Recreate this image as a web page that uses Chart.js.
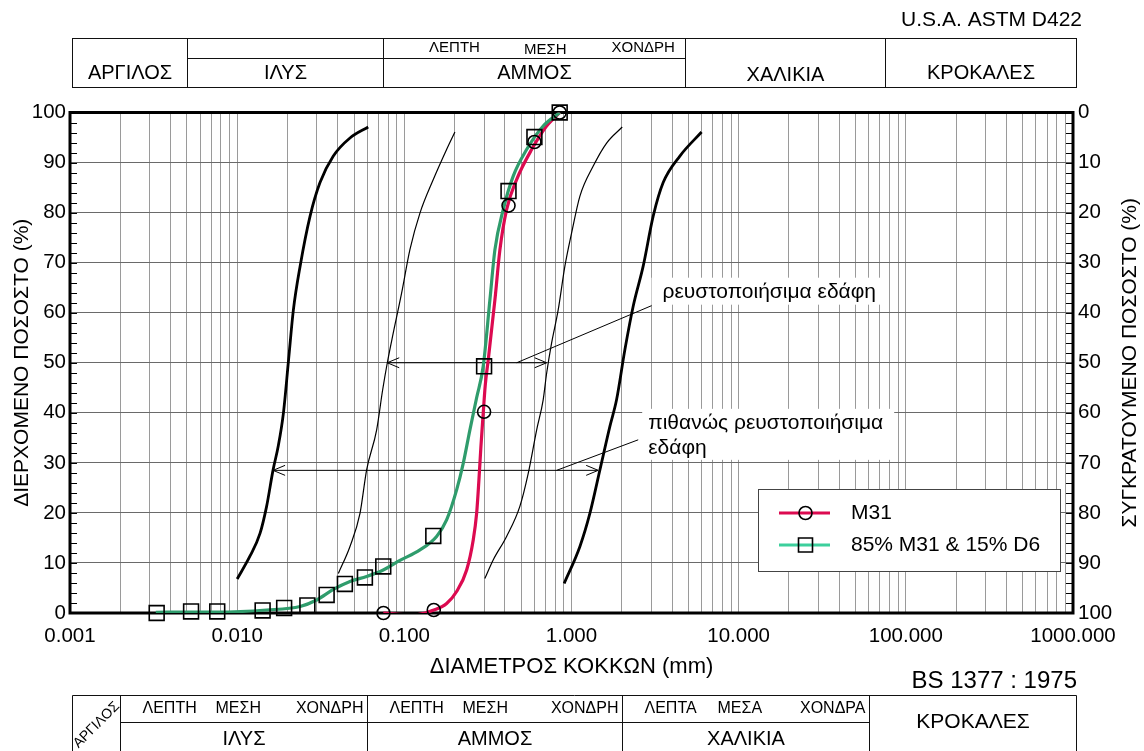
<!DOCTYPE html>
<html lang="el">
<head>
<meta charset="utf-8">
<title>Κοκκομετρική διαβάθμιση</title>
<script src="https://cdn.jsdelivr.net/npm/chart.js@4.4.1/dist/chart.umd.min.js"></script>
<style>
  html, body { margin: 0; padding: 0; background: #fff; }
  canvas { display: block; }
</style>
</head>
<body>
<canvas id="grading" width="1144" height="751"></canvas>
<script>
// ---- sieve results: grain diameter (mm) and percent passing ----
const m31Diam = [0.075, 0.15, 0.30, 0.42, 0.60, 0.85];
const m31Pass = [0, 0.6, 40.2, 81.4, 94.1, 100];
const mixDiam = [0.0033, 0.0053, 0.0076, 0.0142, 0.0191, 0.0263, 0.0343, 0.0441, 0.0581, 0.0748, 0.149, 0.30, 0.42, 0.60, 0.85];
const mixPass = [0, 0.3, 0.3, 0.5, 1.0, 1.5, 3.6, 5.8, 7.1, 9.3, 15.4, 49.3, 84.3, 95.1, 100];

// ---- smoothed grading curves ----
const m31CurveDiam = [0.0748, 0.113, 0.1503, 0.1791, 0.2055, 0.2359, 0.2583, 0.2707, 0.2794, 0.2872, 0.2964, 0.3048, 0.3175, 0.3483, 0.3731, 0.409, 0.4696, 0.5774, 0.7097, 0.8523];
const m31CurvePass = [0, -0.4, 0.6, 1.9, 4.3, 8.6, 14.6, 19.9, 26.6, 33.3, 39.9, 45.5, 50.5, 62.6, 72.6, 80.6, 86.6, 92.6, 97.3, 100];
const mixCurveDiam = [0.00326, 0.0053, 0.0076, 0.0150, 0.0238, 0.0299, 0.0376, 0.0473, 0.0595, 0.0748, 0.0941, 0.124, 0.156, 0.179, 0.2055, 0.2251, 0.2468, 0.2707, 0.2964, 0.3251, 0.3483, 0.3904, 0.4481, 0.5391, 0.6772, 0.8523];
const mixCurvePass = [0.15, 0.2, 0.2, 0.6, 1.3, 2.6, 4.7, 6.3, 7.3, 8.6, 10.5, 12.6, 15.3, 18.6, 24.6, 29.9, 36.6, 43.0, 49.3, 62.6, 72.6, 80.6, 87.3, 92.6, 97.3, 100];

// ---- liquefaction susceptibility envelopes ----
const possLowDiam = [0.0100, 0.0119, 0.0137, 0.0150, 0.0164, 0.0176, 0.0189, 0.0203, 0.0217, 0.0238, 0.0273, 0.0313, 0.0376, 0.0473, 0.0608];
const possLowPass = [6.8, 11.3, 15.9, 21.3, 28.6, 33.3, 39.9, 50.6, 60.6, 69.3, 79.3, 86.0, 91.3, 94.9, 97.1];
const possHighDiam = [0.904, 1.123, 1.288, 1.479, 1.697, 1.86, 2.086, 2.339, 2.684, 3.081, 3.535, 4.449, 6.0];
const possHighPass = [5.9, 13.3, 19.9, 28.6, 37.3, 42.6, 52.6, 61.3, 69.3, 79.3, 86.0, 91.3, 96.1];
const liqLowDiam = [0.0403, 0.0473, 0.0543, 0.0595, 0.0683, 0.0742, 0.0790, 0.0858, 0.0963, 0.108, 0.124, 0.149, 0.179, 0.2007];
const liqLowPass = [7.9, 13.3, 19.9, 28.6, 36.6, 44.6, 49.9, 55.9, 63.9, 72.6, 79.9, 86.6, 92.6, 96.1];
const liqHighDiam = [0.303, 0.340, 0.409, 0.491, 0.551, 0.619, 0.677, 0.710, 0.760, 0.833, 0.913, 1.001, 1.123, 1.349, 1.622, 2.011];
const liqHighPass = [6.9, 10.6, 15.3, 21.3, 27.9, 36.6, 42.6, 47.9, 53.9, 60.6, 69.3, 75.9, 83.3, 89.3, 93.9, 97.1];

// ---- dimension arrows and leaders for the envelope labels ----
const liqArrowDiam = [0.079, 0.71];
const liqArrowPass = [50, 50];
const liqLeaderDiam = [0.47, 3.01];
const liqLeaderPass = [50, 61.4];
const possArrowDiam = [0.0164, 1.444];
const possArrowPass = [28.5, 28.5];
const possLeaderDiam = [0.8145, 2.506];
const possLeaderPass = [28.5, 34.6];

// ---- axes ----
const xDecades = [0.001, 0.01, 0.1, 1, 10, 100, 1000];
const passTicks = [0, 10, 20, 30, 40, 50, 60, 70, 80, 90, 100];

// ---- soil classification bands ----
const astmBounds = [0.005, 0.075, 4.75, 75];
const astmGroups = ['ΑΡΓΙΛΟΣ', 'ΙΛΥΣ', 'ΑΜΜΟΣ', 'ΧΑΛΙΚΙΑ', 'ΚΡΟΚΑΛΕΣ'];
const astmSandParts = ['ΛΕΠΤΗ', 'ΜΕΣΗ', 'ΧΟΝΔΡΗ'];
const bsBounds = [0.002, 0.06, 2, 60];
const bsGroups = ['ΑΡΓΙΛΟΣ', 'ΙΛΥΣ', 'ΑΜΜΟΣ', 'ΧΑΛΙΚΙΑ', 'ΚΡΟΚΑΛΕΣ'];
const bsParts = [['ΛΕΠΤΗ', 'ΜΕΣΗ', 'ΧΟΝΔΡΗ'], ['ΛΕΠΤΗ', 'ΜΕΣΗ', 'ΧΟΝΔΡΗ'], ['ΛΕΠΤΑ', 'ΜΕΣΑ', 'ΧΟΝΔΡΑ']];

const FACE = '"Liberation Sans", Arial, Helvetica, sans-serif';
const RED = '#dc0a50';
const GREEN = '#2f9c6c';
const GREEN_KEY = '#3ccf9c';

const pts = (d, p) => d.map((v, i) => ({ x: v, y: p[i] }));
const curve = (label, d, p, color, width, order, smooth = true) => ({
  label, data: pts(d, p), showLine: true, borderColor: color, borderWidth: width,
  pointRadius: 0, pointHoverRadius: 0, fill: false, order,
  cubicInterpolationMode: smooth ? 'monotone' : 'default', tension: 0
});

const font = (size) => `${size}px ${FACE}`;

function text(ctx, s, x, y, size, align = 'center', base = 'middle') {
  ctx.font = font(size);
  ctx.textAlign = align;
  ctx.textBaseline = base;
  ctx.fillStyle = '#000';
  ctx.fillText(s, x, y);
}

function hline(ctx, x1, x2, y) {
  ctx.beginPath(); ctx.moveTo(x1, y); ctx.lineTo(x2, y); ctx.stroke();
}
function vline(ctx, x, y1, y2) {
  ctx.beginPath(); ctx.moveTo(x, y1); ctx.lineTo(x, y2); ctx.stroke();
}

const decor = {
  id: 'decor',
  beforeDatasetsDraw(chart) {
    const { ctx, chartArea: a, scales: { x, y } } = chart;
    ctx.save();
    // white boxes behind the envelope labels
    const liqEnd = { x: x.getPixelForValue(liqLeaderDiam[1]), y: y.getPixelForValue(liqLeaderPass[1]) };
    const possEnd = { x: x.getPixelForValue(possLeaderDiam[1]), y: y.getPixelForValue(possLeaderPass[1]) };
    ctx.fillStyle = '#fff';
    ctx.fillRect(liqEnd.x, liqEnd.y - 28, 232, 27);
    ctx.fillRect(possEnd.x + 4, possEnd.y - 31, 252, 51);
    text(ctx, 'ρευστοποιήσιμα εδάφη', liqEnd.x + 11, liqEnd.y - 13, 21, 'left');
    text(ctx, 'πιθανώς ρευστοποιήσιμα', possEnd.x + 10, possEnd.y - 17, 21, 'left');
    text(ctx, 'εδάφη', possEnd.x + 10, possEnd.y + 8, 21, 'left');

    // inward minor ticks on both percentage axes
    ctx.strokeStyle = '#000';
    ctx.lineWidth = 1;
    for (let v = 2; v < 100; v += 2) {
      const py = Math.round(y.getPixelForValue(v)) + 0.5;
      hline(ctx, a.left, a.left + 7, py);
      hline(ctx, a.right - 7, a.right, py);
    }
    // plot frame
    ctx.lineWidth = 3;
    ctx.strokeRect(a.left, a.top, a.right - a.left, a.bottom - a.top);
    ctx.restore();
  },
  afterDatasetsDraw(chart) {
    const { ctx, scales: { x, y } } = chart;
    ctx.save();
    // open arrowheads at both ends of the dimension lines
    ctx.strokeStyle = '#000';
    ctx.lineWidth = 1;
    [[liqArrowDiam, liqArrowPass], [possArrowDiam, possArrowPass]].forEach(([d, p]) => {
      const x1 = x.getPixelForValue(d[0]), x2 = x.getPixelForValue(d[1]);
      const py = y.getPixelForValue(p[0]);
      ctx.beginPath();
      ctx.moveTo(x1 + 12, py - 5); ctx.lineTo(x1, py); ctx.lineTo(x1 + 12, py + 5);
      ctx.moveTo(x2 - 12, py - 5); ctx.lineTo(x2, py); ctx.lineTo(x2 - 12, py + 5);
      ctx.stroke();
    });

    // legend
    const lx = 758.5, ly = 489.5, lw = 302, lh = 82;
    ctx.fillStyle = '#fff';
    ctx.fillRect(lx, ly, lw, lh);
    ctx.strokeStyle = '#444';
    ctx.strokeRect(lx, ly, lw, lh);
    const rows = [
      { name: 'M31', color: RED, mark: 'circle', yy: 513 },
      { name: '85% M31 & 15% D6', color: GREEN_KEY, mark: 'square', yy: 545 }
    ];
    rows.forEach(r => {
      ctx.strokeStyle = r.color;
      ctx.lineWidth = 3.2;
      hline(ctx, 779, 830, r.yy);
      ctx.strokeStyle = '#000';
      ctx.lineWidth = 1.6;
      ctx.beginPath();
      if (r.mark === 'circle') ctx.arc(805.5, r.yy, 6.5, 0, Math.PI * 2);
      else ctx.rect(798.5, r.yy - 7, 14, 14);
      ctx.stroke();
      text(ctx, r.name, 851, r.yy, 21, 'left');
    });
    ctx.restore();
  },
  afterDraw(chart) {
    const { ctx, chartArea: a, scales: { x } } = chart;
    ctx.save();
    ctx.strokeStyle = '#111';
    ctx.lineWidth = 1;
    const L = 72.5, R = 1076.5;

    // ASTM D422 band above the plot
    text(ctx, 'U.S.A. ASTM D422', 1082, 20, 21, 'right');
    const tT = 38.5, tM = 58.5, tB = 87.5;
    const ab = astmBounds.map(v => Math.round(x.getPixelForValue(v)) + 0.5);
    ctx.strokeRect(L, tT, R - L, tB - tT);
    ab.forEach(px => vline(ctx, px, tT, tB));
    hline(ctx, ab[0], ab[2], tM);
    const aEdges = [L, ...ab, R];
    astmGroups.forEach((g, i) => {
      const cx = (aEdges[i] + aEdges[i + 1]) / 2;
      text(ctx, g, cx, g === 'ΧΑΛΙΚΙΑ' ? 75 : 73, 20);
    });
    const sw = ab[2] - ab[1];
    [0.235, 0.536, 0.86].forEach((f, i) => {
      text(ctx, astmSandParts[i], ab[1] + sw * f, i === 1 ? 50 : 48, 15);
    });

    // BS 1377 band below the plot
    text(ctx, 'BS 1377 : 1975', 1077, 681, 24, 'right');
    const bT = 695.5, bM = 722.5, bB = 752;
    const bb = bsBounds.map(v => Math.round(x.getPixelForValue(v)) + 0.5);
    ctx.beginPath();
    ctx.moveTo(L, bB); ctx.lineTo(L, bT); ctx.lineTo(R, bT); ctx.lineTo(R, bB);
    ctx.stroke();
    bb.forEach(px => vline(ctx, px, bT, bB));
    hline(ctx, bb[0], bb[3], bM);
    const bEdges = [L, ...bb, R];
    for (let i = 1; i <= 3; i++) {
      const c0 = bEdges[i], c1 = bEdges[i + 1];
      text(ctx, bsGroups[i], (c0 + c1) / 2, 739, 20);
      const parts = bsParts[i - 1];
      text(ctx, parts[0], c0 + 22, 709, 16, 'left');
      text(ctx, parts[1], c0 + 95, 709, 16, 'left');
      text(ctx, parts[2], c1 - 4, 709, 16, 'right');
    }
    text(ctx, bsGroups[4], (bEdges[4] + bEdges[5]) / 2, 722, 21);
    ctx.save();
    ctx.translate((bEdges[0] + bEdges[1]) / 2, 725);
    ctx.rotate(-Math.PI / 4);
    text(ctx, bsGroups[0], 0, 0, 14);
    ctx.restore();

    // retained-percentage axis title
    ctx.save();
    ctx.translate(1130, (a.top + a.bottom) / 2);
    ctx.rotate(-Math.PI / 2);
    text(ctx, 'ΣΥΓΚΡΑΤΟΥΜΕΝΟ ΠΟΣΟΣΤΟ (%)', 0, 0, 21);
    ctx.restore();
    ctx.restore();
  }
};

const markerStyle = { showLine: false, pointBackgroundColor: 'rgba(0,0,0,0)', pointBorderColor: '#000', pointBorderWidth: 1.6, clip: false, order: 0 };

new Chart(document.getElementById('grading'), {
  type: 'scatter',
  data: {
    datasets: [
      { label: 'M31', data: pts(m31Diam, m31Pass), pointStyle: 'circle', pointRadius: 6.5, ...markerStyle },
      { label: '85% M31 & 15% D6', data: pts(mixDiam, mixPass), pointStyle: 'rect', pointRadius: 10.5, ...markerStyle },
      curve('85% M31 & 15% D6 curve', mixCurveDiam, mixCurvePass, GREEN, 3.2, 1),
      curve('M31 curve', m31CurveDiam, m31CurvePass, RED, 3.2, 2),
      curve('possible lower', possLowDiam, possLowPass, '#000', 2.8, 3),
      curve('possible upper', possHighDiam, possHighPass, '#000', 2.8, 3),
      curve('liquefiable lower', liqLowDiam, liqLowPass, '#000', 1.2, 3),
      curve('liquefiable upper', liqHighDiam, liqHighPass, '#000', 1.2, 3),
      curve('liq arrow', liqArrowDiam, liqArrowPass, '#000', 1, 4, false),
      curve('liq leader', liqLeaderDiam, liqLeaderPass, '#000', 1, 4, false),
      curve('poss arrow', possArrowDiam, possArrowPass, '#000', 1, 4, false),
      curve('poss leader', possLeaderDiam, possLeaderPass, '#000', 1, 4, false)
    ]
  },
  options: {
    responsive: false,
    animation: false,
    events: [],
    layout: { padding: { top: 112.5, left: 0, right: 0, bottom: 0 } },
    plugins: { legend: { display: false }, tooltip: { enabled: false } },
    scales: {
      x: {
        type: 'logarithmic', position: 'bottom', min: 0.001, max: 1000,
        afterFit: s => { s.height = 138; },
        afterBuildTicks: s => {
          const t = [];
          for (let e = -3; e < 3; e++) for (let m = 1; m < 10; m++) t.push({ value: +(m * Math.pow(10, e)).toPrecision(6) });
          t.push({ value: 1000 });
          s.ticks = t;
        },
        grid: { color: '#9a9a9a', lineWidth: 1, drawTicks: false },
        border: { display: false },
        ticks: {
          autoSkip: false, maxRotation: 0, padding: 11, color: '#000', font: { family: FACE, size: 20.5 },
          callback: v => xDecades.some(d => Math.abs(Math.log10(v / d)) < 1e-6) ? Number(v).toFixed(3) : ''
        },
        title: { display: true, text: 'ΔΙΑΜΕΤΡΟΣ ΚΟΚΚΩΝ (mm)', color: '#000', font: { family: FACE, size: 22 }, padding: { top: 0, bottom: 71 } }
      },
      y: {
        type: 'linear', position: 'left', min: 0, max: 100,
        afterFit: s => { s.width = 70; },
        afterBuildTicks: s => { s.ticks = passTicks.map(v => ({ value: v })); },
        grid: { color: '#6a6a6a', lineWidth: 1, drawTicks: false },
        border: { display: false },
        ticks: { padding: 4, color: '#000', font: { family: FACE, size: 20.5 } },
        title: { display: true, text: 'ΔΙΕΡΧΟΜΕΝΟ ΠΟΣΟΣΤΟ (%)', color: '#000', font: { family: FACE, size: 21 }, padding: { top: 10, bottom: 0 } }
      },
      y2: {
        type: 'linear', position: 'right', min: 0, max: 100, reverse: true,
        afterFit: s => { s.width = 71; },
        afterBuildTicks: s => { s.ticks = passTicks.map(v => ({ value: v })); },
        grid: { display: false, drawTicks: false },
        border: { display: false },
        ticks: { padding: 5, color: '#000', font: { family: FACE, size: 20.5 } }
      }
    }
  },
  plugins: [decor]
});
</script>
</body>
</html>
